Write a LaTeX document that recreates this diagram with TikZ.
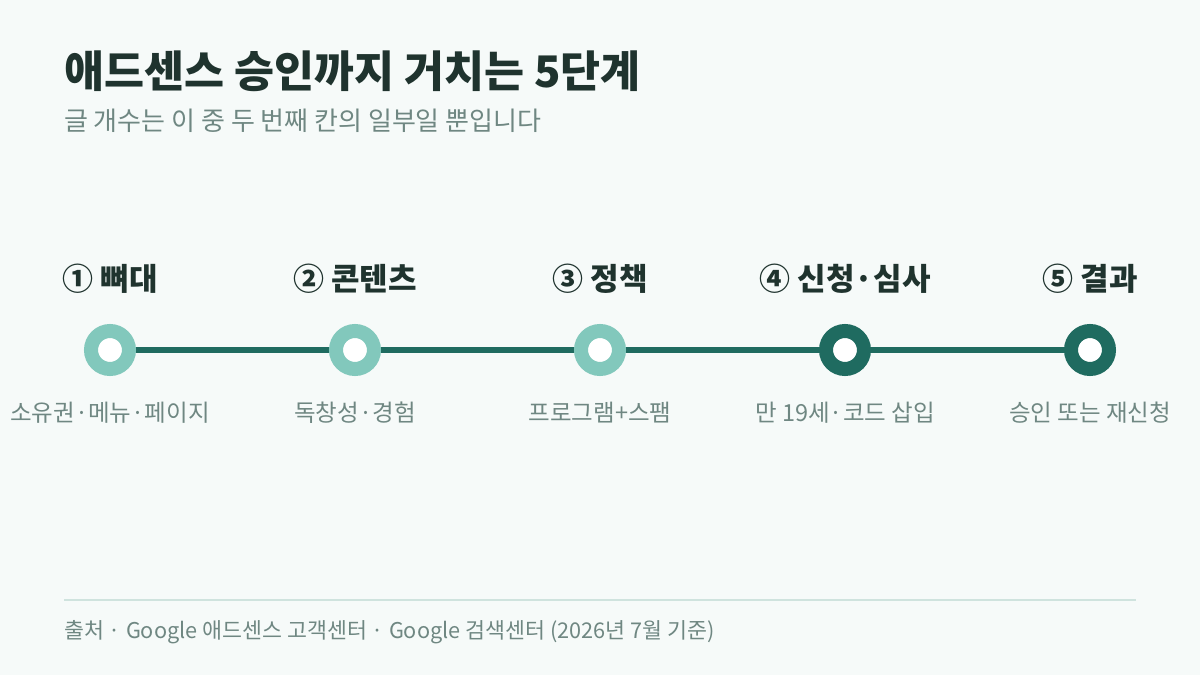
\documentclass[tikz,border=0pt]{standalone}
\usepackage{fontspec}
\setmainfont{Noto Sans CJK KR}
\newfontfamily\kr{Noto Sans CJK KR}
\definecolor{bgc}{HTML}{F6FAF9}
\definecolor{titlec}{HTML}{1F332E}
\definecolor{subc}{HTML}{6F8782}
\definecolor{lightc}{HTML}{82C8BC}
\definecolor{darkc}{HTML}{1F6B60}
\definecolor{rulec}{HTML}{CFE3DE}
\tikzset{
  titletext/.style={anchor=base west, inner sep=0pt, text=titlec, font=\kr\bfseries\fontsize{43.5}{48}\selectfont},
  subtext/.style={anchor=base west, inner sep=0pt, text=subc, font=\kr\fontsize{26}{30}\selectfont},
  steplabel/.style={anchor=base, inner sep=0pt, text=titlec, font=\kr\bfseries\fontsize{31}{36}\selectfont},
  desclabel/.style={anchor=base, inner sep=0pt, text=subc, font=\kr\fontsize{23.5}{28}\selectfont},
  dot/.style={circle, draw=#1, line width=14pt, fill=white, minimum size=38pt, inner sep=0pt},
  track/.style={draw=darkc, line width=6pt},
  foot/.style={anchor=base west, inner sep=0pt, text=subc, font=\kr\fontsize{21.7}{26}\selectfont},
}
\begin{document}
\begin{tikzpicture}[x=1pt,y=-1pt]
\fill[bgc] (0,0) rectangle (1200,675);
\useasboundingbox (0,0) rectangle (1200,675);
\node[titletext] (title) at (64,87) {애드센스 승인까지 거치는 5단계};
\node[subtext] (sub) at (64,130.5) {글 개수는 이 중 두 번째 칸의 일부일 뿐입니다};
\coordinate (p1) at (110,350);
\coordinate (p2) at (355,350);
\coordinate (p3) at (600,350);
\coordinate (p4) at (845,350);
\coordinate (p5) at (1090,350);
\draw[track] (p1) -- (p5);
\node[dot=lightc] (c1) at (p1) {};
\node[dot=lightc] (c2) at (p2) {};
\node[dot=lightc] (c3) at (p3) {};
\node[dot=darkc] (c4) at (p4) {};
\node[dot=darkc] (c5) at (p5) {};
\node[steplabel] (s1) at (110,290.5) {① 뼈대};
\node[steplabel] (s2) at (355,290.5) {② 콘텐츠};
\node[steplabel] (s3) at (600,290.5) {③ 정책};
\node[steplabel] (s4) at (845,290.5) {④ 신청·심사};
\node[steplabel] (s5) at (1090,290.5) {⑤ 결과};
\node[desclabel] (d1) at (110,421) {소유권·메뉴·페이지};
\node[desclabel] (d2) at (355,421) {독창성·경험};
\node[desclabel] (d3) at (600,421) {프로그램+스팸};
\node[desclabel] (d4) at (845,421) {만 19세·코드 삽입};
\node[desclabel] (d5) at (1090,421) {승인 또는 재신청};
\coordinate (r1) at (64,600);
\coordinate (r2) at (1136,600);
\draw[rulec, line width=1.5pt] (r1) -- (r2);
\node[foot] (src) at (64,638.5) {출처 · Google 애드센스 고객센터 · Google 검색센터 (2026년 7월 기준)};
\end{tikzpicture}
\end{document}
